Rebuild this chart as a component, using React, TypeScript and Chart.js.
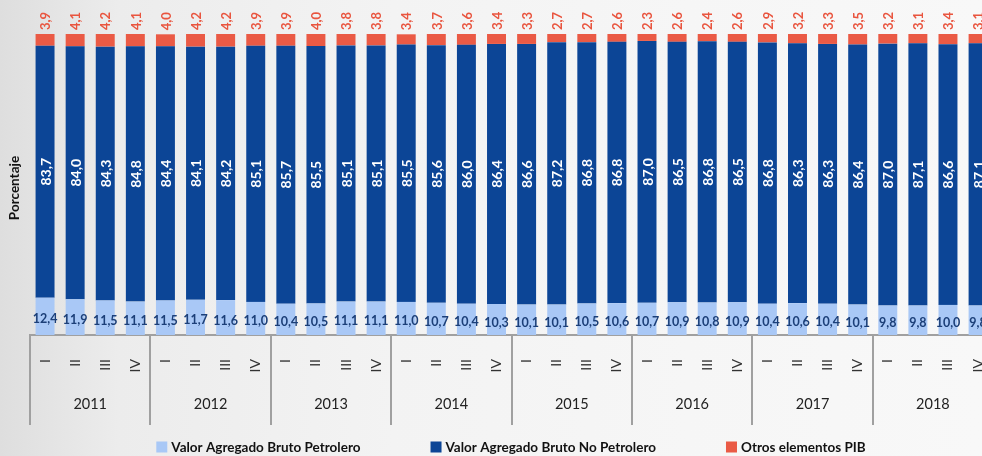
import React, { useEffect, useRef } from "react";
import { Chart, registerables } from "chart.js";

Chart.register(...registerables);

const years = ["2011", "2012", "2013", "2014", "2015", "2016", "2017", "2018"];
const quarters = ["I", "II", "III", "IV"];

const petrolero = [
  12.4, 11.9, 11.5, 11.1,
  11.5, 11.7, 11.6, 11.0,
  10.4, 10.5, 11.1, 11.1,
  11.0, 10.7, 10.4, 10.3,
  10.1, 10.1, 10.5, 10.6,
  10.7, 10.9, 10.8, 10.9,
  10.4, 10.6, 10.4, 10.1,
  9.8, 9.8, 10.0, 9.8,
];
const noPetrolero = [
  83.7, 84.0, 84.3, 84.8,
  84.4, 84.1, 84.2, 85.1,
  85.7, 85.5, 85.1, 85.1,
  85.5, 85.6, 86.0, 86.4,
  86.6, 87.2, 86.8, 86.8,
  87.0, 86.5, 86.8, 86.5,
  86.8, 86.3, 86.3, 86.4,
  87.0, 87.1, 86.6, 87.1,
];
const otros = [
  3.9, 4.1, 4.2, 4.1,
  4.0, 4.2, 4.2, 3.9,
  3.9, 4.0, 3.8, 3.8,
  3.4, 3.7, 3.6, 3.4,
  3.3, 2.7, 2.7, 2.6,
  2.3, 2.6, 2.4, 2.6,
  2.9, 3.2, 3.3, 3.5,
  3.2, 3.1, 3.4, 3.1,
];

const seriesNames = [
  "Valor Agregado Bruto Petrolero",
  "Valor Agregado Bruto No Petrolero",
  "Otros elementos PIB",
];
const seriesColors = ["#a9c8f6", "#0c4596", "#ea5a45"];
const yAxisTitle = "Porcentaje";

const labels: string[] = [];
years.forEach(() => quarters.forEach((q) => labels.push(q)));

const FONT = "Lato, 'Open Sans', sans-serif";
const fmt = (v: number) => v.toFixed(1).replace(".", ",");

const overlay = {
  id: "overlay",
  afterDatasetsDraw(chart: any) {
    const ctx: CanvasRenderingContext2D = chart.ctx;
    const area = chart.chartArea;
    ctx.save();

    // bottom segment labels
    const m0 = chart.getDatasetMeta(0);
    ctx.font = `bold 12.5px ${FONT}`;
    ctx.fillStyle = "#1c3f78";
    ctx.textAlign = "center";
    ctx.textBaseline = "middle";
    m0.data.forEach((bar: any, i: number) => {
      const p = bar.getProps(["x", "y", "base"], true);
      ctx.fillText(fmt(petrolero[i]), p.x, (p.y + p.base) / 2 + 3);
    });

    // middle segment labels (rotated, white)
    const m1 = chart.getDatasetMeta(1);
    ctx.font = `bold 14px ${FONT}`;
    ctx.fillStyle = "#ffffff";
    m1.data.forEach((bar: any, i: number) => {
      const p = bar.getProps(["x", "y", "base"], true);
      ctx.save();
      ctx.translate(p.x + 1, (p.y + p.base) / 2);
      ctx.rotate(-Math.PI / 2);
      ctx.fillText(fmt(noPetrolero[i]), 0, 0);
      ctx.restore();
    });

    // top labels (rotated, red, above bars)
    const m2 = chart.getDatasetMeta(2);
    ctx.font = `bold 13px ${FONT}`;
    ctx.fillStyle = "#e9553f";
    m2.data.forEach((bar: any, i: number) => {
      const p = bar.getProps(["x", "y", "base"], true);
      ctx.save();
      ctx.translate(p.x + 1, p.y - 13);
      ctx.rotate(-Math.PI / 2);
      ctx.fillText(fmt(otros[i]), 0, 0);
      ctx.restore();
    });

    // group separators and year labels
    const cw = (area.right - area.left) / labels.length;
    ctx.strokeStyle = "#a0a0a0";
    ctx.lineWidth = 2;
    for (let k = 0; k <= years.length; k++) {
      const xs = Math.round(area.left + k * quarters.length * cw);
      ctx.beginPath();
      ctx.moveTo(xs, area.bottom);
      ctx.lineTo(xs, 425);
      ctx.stroke();
    }
    ctx.font = `14.5px ${FONT}`;
    ctx.fillStyle = "#222222";
    years.forEach((y, k) => {
      const xc = area.left + (k + 0.5) * quarters.length * cw;
      ctx.fillText(y, xc, 404);
    });

    // y axis title
    ctx.save();
    ctx.font = `bold 13.5px ${FONT}`;
    ctx.fillStyle = "#111111";
    ctx.translate(15, 188);
    ctx.rotate(-Math.PI / 2);
    ctx.fillText(yAxisTitle, 0, 0);
    ctx.restore();

    // legend
    ctx.font = `bold 13.5px ${FONT}`;
    const box = 11;
    const gapBox = 4;
    const gapItem = 70;
    const widths = seriesNames.map((n) => ctx.measureText(n).width);
    const total =
      widths.reduce((a, b) => a + b, 0) +
      seriesNames.length * (box + gapBox) +
      (seriesNames.length - 1) * gapItem;
    let lx = 511 - total / 2;
    const ly = 447;
    ctx.textAlign = "left";
    seriesNames.forEach((n, i) => {
      ctx.fillStyle = seriesColors[i];
      ctx.fillRect(lx, ly - box / 2, box, box);
      ctx.fillStyle = "#111111";
      ctx.fillText(n, lx + box + gapBox, ly + 1);
      lx += box + gapBox + widths[i] + gapItem;
    });

    ctx.restore();
  },
};

export default function App() {
  const ref = useRef<HTMLCanvasElement>(null);
  useEffect(() => {
    if (!ref.current) return;
    const chart = new Chart(ref.current, {
      type: "bar",
      data: {
        labels,
        datasets: [
          { label: seriesNames[0], data: petrolero, backgroundColor: seriesColors[0] },
          { label: seriesNames[1], data: noPetrolero, backgroundColor: seriesColors[1] },
          { label: seriesNames[2], data: otros, backgroundColor: seriesColors[2] },
        ],
      },
      options: {
        responsive: false,
        animation: false,
        layout: { padding: { left: 30, right: 8, top: 34, bottom: 0 } },
        datasets: { bar: { categoryPercentage: 1, barPercentage: 0.63 } },
        plugins: {
          legend: { display: false },
          tooltip: { enabled: false },
        },
        scales: {
          x: {
            stacked: true,
            grid: { display: false },
            border: { display: true, color: "#a0a0a0", width: 2 },
            ticks: {
              autoSkip: false,
              minRotation: 90,
              maxRotation: 90,
              padding: 16,
              color: "#333333",
              font: { family: FONT, size: 14 },
            },
            afterFit: (s: any) => {
              s.height = 121;
            },
          },
          y: {
            stacked: true,
            min: 0,
            max: 100,
            display: false,
          },
        },
      },
      plugins: [overlay],
    } as any);
    return () => chart.destroy();
  }, []);
  return (
    <div
      style={{
        position: "fixed",
        left: 0,
        top: 0,
        width: 982,
        height: 456,
        overflow: "hidden",
        background:
          "linear-gradient(90deg, #dedede 0%, #ececec 12%, #f3f3f3 40%, #f6f6f6 70%, #f8f8f8 100%)",
      }}
    >
      <canvas ref={ref} width={1011} height={456} style={{ display: "block" }} />
    </div>
  );
}
